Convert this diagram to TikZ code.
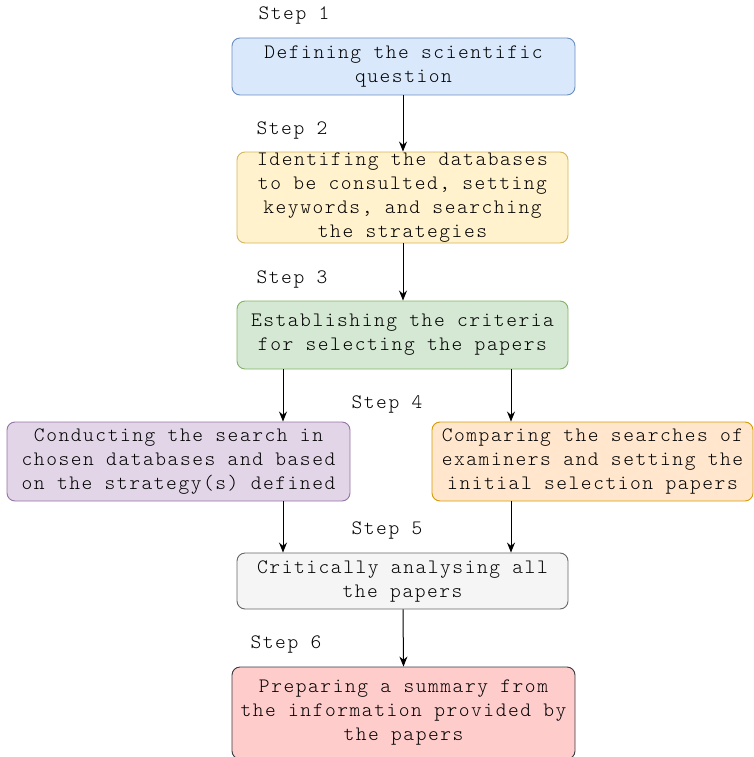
\documentclass[tikz,border=0pt]{standalone}
\usepackage{fontspec}
\setmonofont[LetterSpace=7.5]{Latin Modern Mono Light}
\usetikzlibrary{arrows.meta}
\definecolor{bfill}{HTML}{DAE8FC}\definecolor{bdraw}{HTML}{6C8EBF}
\definecolor{yfill}{HTML}{FFF2CC}\definecolor{ydraw}{HTML}{D6B656}
\definecolor{gfill}{HTML}{D5E8D4}\definecolor{gdraw}{HTML}{82B366}
\definecolor{pfill}{HTML}{E1D5E7}\definecolor{pdraw}{HTML}{9673A6}
\definecolor{ofill}{HTML}{FFE6CC}\definecolor{odraw}{HTML}{D79B00}
\definecolor{sfill}{HTML}{F5F5F5}\definecolor{sdraw}{HTML}{666666}
\definecolor{rfill}{HTML}{FFCCCC}\definecolor{rdraw}{HTML}{36393D}
\begin{document}
\begin{tikzpicture}[x=1pt,y=-1pt,
  font=\ttfamily\fontsize{20.5}{24}\selectfont,
  box/.style={draw, line width=0.9pt, rounded corners=8pt, inner sep=0pt, align=center, text=black},
  lbl/.style={inner sep=0pt, text=black},
  arr/.style={-{Stealth[length=10pt,width=8pt]}, line width=1pt, black}]
\useasboundingbox (0,0) rectangle (754,757);
\node[box, fill=bfill, draw=bdraw, minimum width=343pt, minimum height=57pt] (s1) at (403.5,66.5) {Defining the scientific\\question};
\node[box, fill=yfill, draw=ydraw, minimum width=331pt, minimum height=91pt] (s2) at (402.5,197.5) {Identifing the databases\\to be consulted, setting\\keywords, and searching\\the strategies};
\node[box, fill=gfill, draw=gdraw, minimum width=331pt, minimum height=68pt] (s3) at (402.5,335) {Establishing the criteria\\for selecting the papers};
\node[box, fill=pfill, draw=pdraw, minimum width=343pt, minimum height=79pt] (s4a) at (178.5,461.5) {Conducting the search in\\chosen databases and based\\on the strategy(s) defined};
\node[box, fill=ofill, draw=odraw, minimum width=321pt, minimum height=79pt] (s4b) at (592.5,461.5) {Comparing the searches of\\examiners and setting the\\initial selection papers};
\node[box, fill=sfill, draw=sdraw, minimum width=331pt, minimum height=56pt] (s5) at (402.5,581) {Critically analysing all\\the papers};
\node[box, fill=rfill, draw=rdraw, minimum width=343pt, minimum height=92pt] (s6) at (403.5,713) {Preparing a summary from\\the information provided by\\the papers};
\node[lbl] (l1) at (294,15) {Step 1};
\node[lbl] (l2) at (292,130) {Step 2};
\node[lbl] (l3) at (292,279) {Step 3};
\node[lbl] (l4) at (387,404) {Step 4};
\node[lbl] (l5) at (387,530) {Step 5};
\node[lbl] (l6) at (286,644) {Step 6};
\coordinate (xl) at (283,0);
\coordinate (xr) at (511,0);
\coordinate (xm) at (403,0);
\draw[arr] (s1.south -| xm) -- (s2.north -| xm);
\draw[arr] (s2.south -| xm) -- (s3.north -| xm);
\draw[arr] (s3.south -| xl) -- (s4a.north -| xl);
\draw[arr] (s3.south -| xr) -- (s4b.north -| xr);
\draw[arr] (s4a.south -| xl) -- (s5.north -| xl);
\draw[arr] (s4b.south -| xr) -- (s5.north -| xr);
\draw[arr] (s5.south -| xm) -- (s6.north);
\end{tikzpicture}
\end{document}
